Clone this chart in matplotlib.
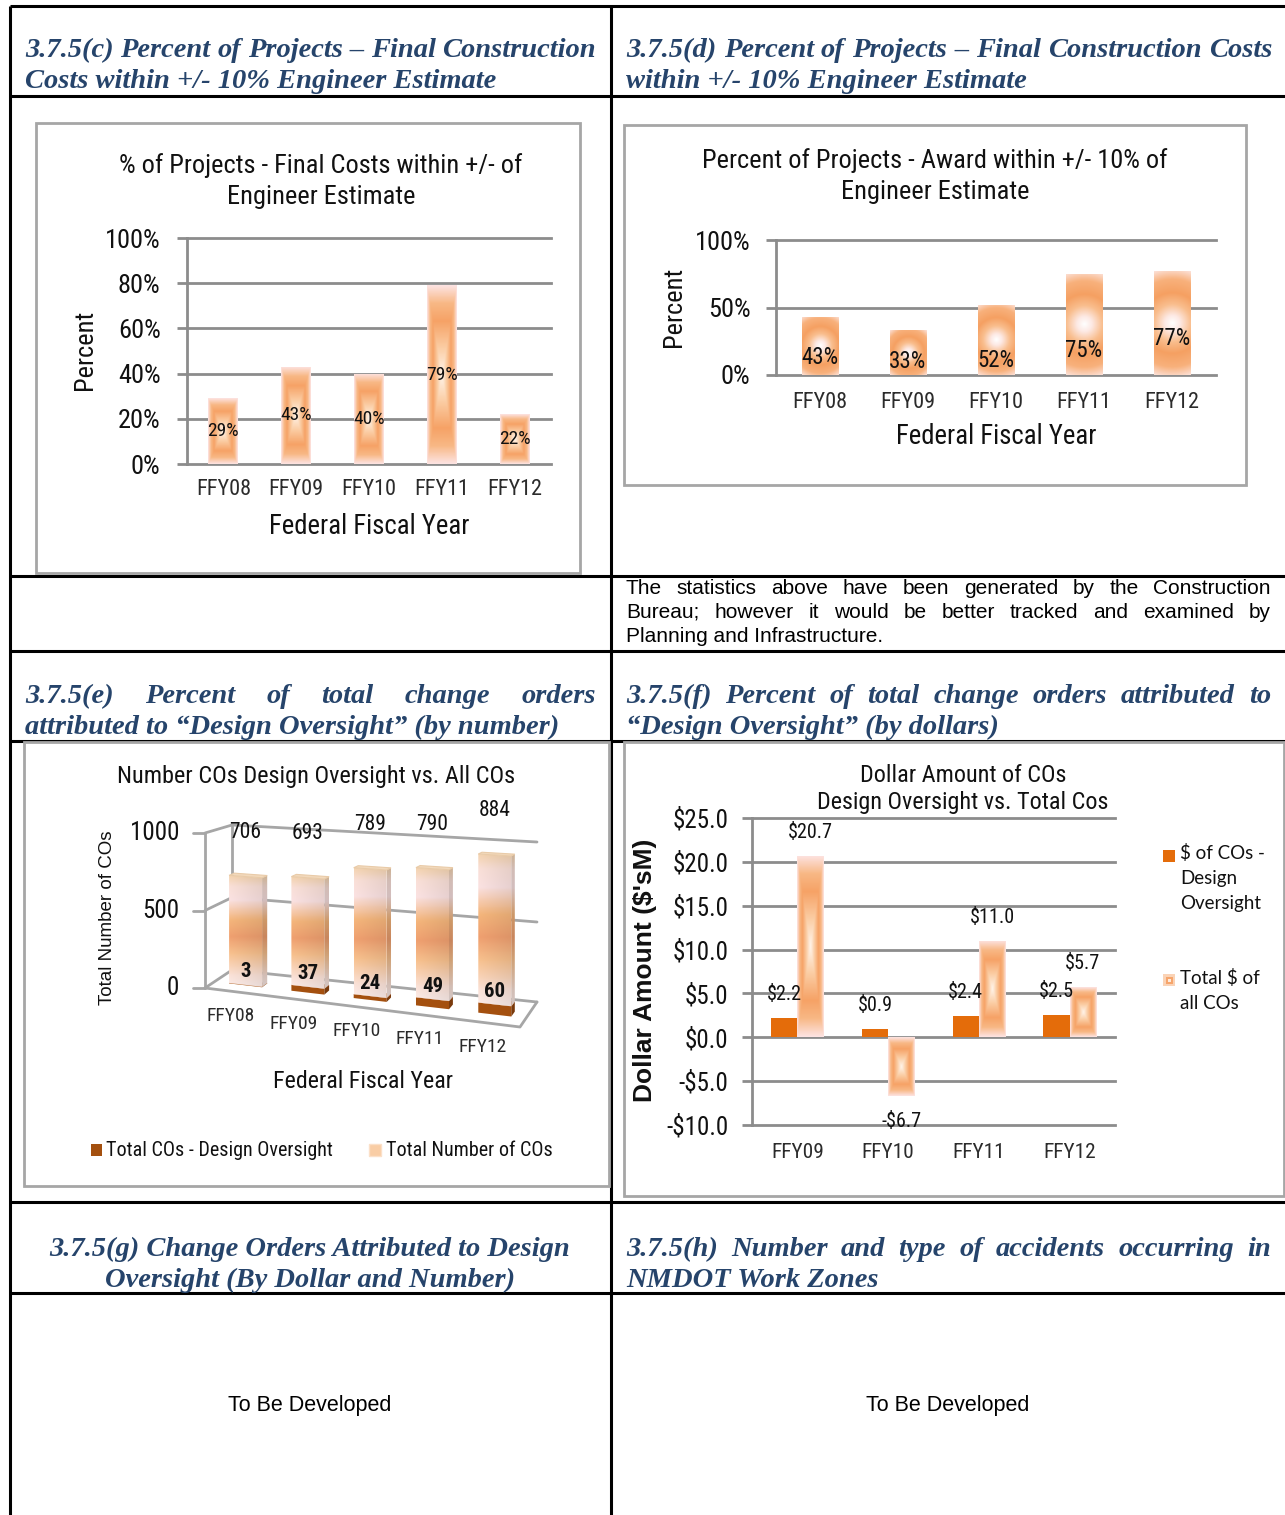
import numpy as np
import matplotlib
matplotlib.use("Agg")
import matplotlib.pyplot as plt
from matplotlib import font_manager
from matplotlib.colors import LinearSegmentedColormap
from matplotlib.patches import Rectangle, Polygon

W, H = 1285, 1515

# ---- values ----
years = ['FFY08', 'FFY09', 'FFY10', 'FFY11', 'FFY12']
final_cost_pct = [29, 43, 40, 79, 22]
award_pct = [43, 33, 52, 75, 77]
co_total = [706, 693, 789, 790, 884]
co_design = [3, 37, 24, 49, 60]
dollar_years = ['FFY09', 'FFY10', 'FFY11', 'FFY12']
dollar_design = [2.2, 0.9, 2.4, 2.5]
dollar_total = [20.7, -6.7, 11.0, 5.7]

# heights (in %) where the award labels sit inside their columns
award_label_at = [13, 10, 11, 18, 27]

installed = {f.name for f in font_manager.fontManager.ttflist}
NARROW = next((n for n in ['Liberation Sans Narrow', 'Roboto Condensed', 'Arial Narrow']
               if n in installed), 'Liberation Sans')
SQUEEZE = 1.0 if NARROW != 'Liberation Sans' else 0.84


def ns(size):
    return size * SQUEEZE


GRID = '#8C8C8C'
BOX = '#A6A6A6'
INK = '#111111'
ORANGE = '#E46C0A'
BROWN = '#A4500F'
BLUE = '#26446B'

glow = LinearSegmentedColormap.from_list('glow', [
    (0, '#FFF4EA'), (0.3, '#FBCDA4'), (0.6, '#F6A266'), (0.8, '#F8B885'), (1, '#FDE3E2')])
halo = LinearSegmentedColormap.from_list('halo', [
    (0, '#FFFFFF'), (0.14, '#FDE9E4'), (0.34, '#F9BE8E'), (0.55, '#F5A062'),
    (0.8, '#F8B17C'), (1, '#FCE1D8')])
column = LinearSegmentedColormap.from_list('column', [
    (0, '#FCEDEA'), (0.1, '#FBE2D8'), (0.3, '#F8C18E'), (0.45, '#F0A070'),
    (0.6, '#F5B67C'), (0.78, '#FBE2E2'), (0.9, '#FAE0D8'), (1, '#F4D3AE')])

fig = plt.figure(figsize=(W / 100, H / 100), dpi=100)
page = fig.add_axes([0, 0, 1, 1])
page.set_xlim(0, W)
page.set_ylim(H, 0)
page.axis('off')
renderer = fig.canvas.get_renderer()


def px_axes(x0, y0, x1, y1):
    ax = fig.add_axes([x0 / W, 1 - y1 / H, (x1 - x0) / W, (y1 - y0) / H])
    ax.set_facecolor('none')
    return ax


def write_line(text, x0, y, x1=None, **kw):
    # x1 given -> spread the words so the line runs from x0 to x1
    if x1 is None:
        page.text(x0, y, text, va='baseline', **kw)
        return
    words = text.split()
    size = kw.pop('size')
    while True:
        items = [page.text(0, y, w, va='baseline', size=size, **kw) for w in words]
        widths = [t.get_window_extent(renderer).width for t in items]
        gap = (x1 - x0 - sum(widths)) / (len(items) - 1)
        if gap >= 0.22 * size * 100 / 72:
            break
        for t in items:
            t.remove()
        size *= 0.98
    x = x0
    for t, w in zip(items, widths):
        t.set_x(x)
        x += w + gap


def gradient(ax, patch, cmap, kind, box, z=3, dim=1.0, tilt=0.0):
    x0, x1, yb, yt = box
    ny, nx = 240, 80
    U, V = np.meshgrid(np.linspace(-1, 1, nx), np.linspace(-1, 1, ny))
    if kind == 'rect':
        t = np.maximum(abs(U), abs(V))
    elif kind == 'radial':
        (px0, py0), (px1, py1) = ax.transData.transform([(x0, yb), (x1, yt)])
        wp, hp = abs(px1 - px0), abs(py1 - py0)
        t = np.clip(np.hypot(U * wp / 2, V * hp / 2) / np.hypot(wp / 2, hp / 2), 0, 1)
    else:
        t = (V + 1) / 2
    rgb = cmap(t)[..., :3] * dim
    if tilt:
        rgb = rgb * (1 - tilt * (U + 1) / 2)[..., None]
    im = ax.imshow(np.clip(rgb, 0, 1), extent=(x0, x1, yb, yt), origin='lower',
                   aspect='auto', interpolation='bilinear', zorder=z)
    im.set_clip_path(patch)


def gradient_bars(ax, x, heights, width, cmap, kind):
    bars = ax.bar(x, heights, width, color='none', zorder=3)
    for b in bars:
        x0 = b.get_x()
        gradient(ax, b, cmap, kind, (x0, x0 + b.get_width(), 0, b.get_height()))
    return bars


def frame(ax, yticks, ylabels, ysize, xsize, ypad, xpad):
    for s in ('top', 'right', 'bottom'):
        ax.spines[s].set_visible(False)
    ax.spines['left'].set_color(GRID)
    ax.spines['left'].set_linewidth(2)
    ax.spines['left'].set_zorder(2)
    for v in yticks:
        ax.axhline(v, color=GRID, lw=2, zorder=1, clip_on=False)
    ax.set_yticks(yticks, ylabels, fontfamily=NARROW, fontsize=ysize, color=INK)
    ax.tick_params(axis='y', length=7, width=2, color=GRID, pad=ypad)
    ax.tick_params(axis='x', length=0, pad=xpad, labelsize=xsize, labelcolor='#2b2b2b')
    for lab in ax.get_xticklabels():
        lab.set_fontfamily(NARROW)


def ntext(x, y, s, size, **kw):
    kw.setdefault('ha', 'center')
    kw.setdefault('va', 'center')
    page.text(x, y, s, family=NARROW, size=ns(size), color=INK, **kw)


# ---- table grid ----
rule = dict(color='black', lw=2.2, solid_capstyle='butt', zorder=0)
for y in [6, 96, 576, 651, 741, 1202, 1293]:
    page.plot([10, W], [y, y], **rule)
for x in [10, 611]:
    page.plot([x, x], [6, H], **rule)

head = dict(family='Liberation Serif', weight='bold', style='italic', size=20.5, color=BLUE)
write_line('3.7.5(c) Percent of Projects \u2013 Final Construction', 25, 57, 596, **head)
write_line('Costs within +/- 10% Engineer Estimate', 25, 88, **head)
write_line('3.7.5(d) Percent of Projects \u2013 Final Construction Costs', 626, 57, 1272, **head)
write_line('within +/- 10% Engineer Estimate', 626, 88, **head)
write_line('3.7.5(e) Percent of total change orders', 25, 703, 596, **head)
write_line('attributed to \u201cDesign Oversight\u201d (by number)', 25, 734, **head)
write_line('3.7.5(f) Percent of total change orders attributed to', 626, 703, 1271, **head)
write_line('\u201cDesign Oversight\u201d (by dollars)', 626, 734, **head)
write_line('3.7.5(g) Change Orders Attributed to Design', 310, 1256, ha='center', **head)
write_line('Oversight (By Dollar and Number)', 310, 1287, ha='center', **head)
write_line('3.7.5(h) Number and type of accidents occurring in', 626, 1256, 1271, **head)
write_line('NMDOT Work Zones', 626, 1287, **head)

body = dict(family='Liberation Sans', size=15, color='black')
write_line('The statistics above have been generated by the Construction', 626, 594, 1271, **body)
write_line('Bureau; however it would be better tracked and examined by', 626, 618, 1271, **body)
write_line('Planning and Infrastructure.', 626, 642, **body)
write_line('To Be Developed', 310, 1411, ha='center', family='Liberation Sans', size=15.5)
write_line('To Be Developed', 948, 1411, ha='center', family='Liberation Sans', size=15.5)

# ---- (c) final costs within +/- of estimate ----
page.add_patch(Rectangle((36, 123), 544, 450, fc='white', ec=BOX, lw=2, zorder=1))
ax = px_axes(187, 238, 551, 464)
x = np.arange(len(years))
ax.set_xlim(-0.5, 4.5)
ax.set_ylim(0, 100)
ax.set_autoscale_on(False)
ax.set_xticks(x, years)
frame(ax, [0, 20, 40, 60, 80, 100], [f'{v}%' for v in range(0, 101, 20)],
      ns(19), ns(16), 12, 11)
gradient_bars(ax, x, final_cost_pct, 0.41, glow, 'rect')
for xi, v in zip(x, final_cost_pct):
    ax.text(xi, v / 2, f'{v}%', ha='center', va='center', family=NARROW,
            size=ns(14), color=INK, zorder=5)
ax.set_xlim(-0.5, 4.5)
ax.set_ylim(0, 100)
ntext(321, 166, '% of Projects - Final Costs within +/- of', 19)
ntext(321, 197, 'Engineer Estimate', 19)
ntext(85, 350, 'Percent', 19, rotation=90)
ntext(369, 526, 'Federal Fiscal Year', 19.3)

# ---- (d) award within +/- 10% of estimate ----
page.add_patch(Rectangle((624, 125), 622, 360, fc='white', ec=BOX, lw=2, zorder=1))
ax = px_axes(776, 240, 1216, 375)
ax.set_xlim(-0.5, 4.5)
ax.set_ylim(0, 100)
ax.set_autoscale_on(False)
ax.set_xticks(x, years)
frame(ax, [0, 50, 100], ['0%', '50%', '100%'], ns(19), ns(16), 11.5, 12)
gradient_bars(ax, x, award_pct, 0.42, halo, 'radial')
for xi, v, at in zip(x, award_pct, award_label_at):
    ax.text(xi, at, f'{v}%', ha='center', va='center', family=NARROW,
            size=ns(16.5), color=INK, zorder=5)
ax.set_xlim(-0.5, 4.5)
ax.set_ylim(0, 100)
ntext(935, 161, 'Percent of Projects - Award within +/- 10% of', 19)
ntext(935, 192, 'Engineer Estimate', 19)
ntext(674, 307, 'Percent', 19, rotation=90)
ntext(996, 437, 'Federal Fiscal Year', 19.3)

# ---- (e) number of COs, pseudo-3D columns ----
page.add_patch(Rectangle((24, 742), 585, 444, fc='white', ec=BOX, lw=2, zorder=1))
ax = px_axes(24, 742, 609, 1186)
ax.set_xlim(24, 609)
ax.set_ylim(1186, 742)
ax.set_autoscale_on(False)
ax.axis('off')


def proj(c, v, d):
    # category c, count v, depth d (0 front .. 1 back wall) -> pixel position
    u = (c + 0.5) / 5
    xf, yf, sf = 205 + 315 * u, 988 + 39 * u, 0.155 + 0.022 * u
    xb, yb, sb = 232 + 305 * u, 970 + 32 * u, 0.145 + 0.015 * u
    return (xf + (xb - xf) * d,
            yf + (yb - yf) * d - v * (sf + (sb - sf) * d))


wall = dict(color=BOX, lw=2, zorder=1, solid_capstyle='round')
for v in (0, 500, 1000):
    pts = [proj(-0.5, v, 0), proj(-0.5, v, 1), proj(4.5, v, 1)]
    ax.plot(*zip(*pts), **wall)
    fx, fy = proj(-0.5, v, 0)
    ax.plot([fx - 12, fx], [fy, fy], **wall)
    ax.text(fx - 26, fy, f'{v}', ha='right', va='center', family=NARROW,
            size=ns(18), color=INK)
ax.plot(*zip(proj(-0.5, 0, 0), proj(-0.5, 1000, 0)), **wall)
ax.plot(*zip(proj(-0.5, 0, 1), proj(-0.5, 1000, 1)), **wall)
ax.plot(*zip(proj(-0.5, 0, 0), proj(4.5, 0, 0), proj(4.5, 0, 1)), **wall)

hw, d0, d1 = 0.265, 0.35, 0.55


def face(pts, **kw):
    poly = Polygon(pts, closed=True, **kw)
    ax.add_patch(poly)
    return poly


def box_of(pts):
    xs, ys = zip(*pts)
    return (min(xs), max(xs), max(ys), min(ys))


def draw_column(c, v0, v1, solid):
    front = [proj(c - hw, v0, d0), proj(c + hw, v0, d0), proj(c + hw, v1, d0), proj(c - hw, v1, d0)]
    side = [proj(c + hw, v0, d0), proj(c + hw, v0, d1), proj(c + hw, v1, d1), proj(c + hw, v1, d0)]
    top = [proj(c - hw, v1, d0), proj(c + hw, v1, d0), proj(c + hw, v1, d1), proj(c - hw, v1, d1)]
    if solid:
        face(front, fc=BROWN, ec='none', zorder=3)
        face(side, fc='#7A3A0C', ec='none', zorder=3)
        face(top, fc='#B8601C', ec='none', zorder=3)
        return
    p = face(front, fc='none', ec='none', zorder=3)
    gradient(ax, p, column, 'vertical', box_of(front), tilt=0.08)
    p = face(side, fc='none', ec='none', zorder=3)
    gradient(ax, p, column, 'vertical', box_of(side), dim=0.84)
    face(top, fc='#F2D9BC', ec='#E9CBA8', lw=0.8, zorder=3)


for i, (dv, tot) in enumerate(zip(co_design, co_total)):
    draw_column(i, 0, dv, True)
    draw_column(i, dv, dv + tot, False)
    tx, ty = proj(i, dv + tot, d0)
    ax.text(tx, ty - 44, f'{tot}', ha='center', va='center', family=NARROW,
            size=ns(15.5), color=INK, zorder=6)
    bx, by = proj(i, dv, d0)
    ax.text(bx, by - 13, f'{dv}', ha='center', va='center', family=NARROW,
            size=ns(15), weight='bold', color=INK, zorder=6)
    cx, cy = proj(i, 0, 0)
    ax.text(cx - 6, cy + 24, years[i], ha='center', va='center', family=NARROW,
            size=ns(14), color='#2b2b2b', zorder=6)
ax.set_xlim(24, 609)
ax.set_ylim(1186, 742)

ntext(316, 777, 'Number COs Design Oversight vs. All COs', 17.5)
page.text(108, 918, 'Total Number of COs', rotation=90, ha='center', va='center',
          family='Liberation Sans', size=13.5, color=INK)
ntext(363, 1081, 'Federal Fiscal Year', 17.3)
page.add_patch(Rectangle((91, 1144), 11, 12, fc=BROWN, ec='none', zorder=2))
ntext(106, 1150, 'Total COs - Design Oversight', 14.5, ha='left')
page.add_patch(Rectangle((369, 1144), 12, 12, fc='#F9CDA5', ec='#FBE0C8', lw=1, zorder=2))
ntext(386, 1150, 'Total Number of COs', 14.5, ha='left')

# ---- (f) dollar amount of COs ----
page.add_patch(Rectangle((624, 742), 660, 454, fc='white', ec=BOX, lw=2, zorder=1))
ax = px_axes(752, 818, 1115, 1125)
xf = np.arange(len(dollar_years))
ax.set_xlim(-0.5, 3.5)
ax.set_ylim(-10, 25)
ax.set_autoscale_on(False)
ax.set_xticks(xf, dollar_years)
ticks = list(range(-10, 26, 5))


def money(v):
    return f'${v:.1f}' if v >= 0 else f'-${-v:.1f}'


frame(ax, ticks, [money(v) for v in ticks], ns(18), ns(15.4), 10, 13)
bw = 0.29
ax.bar(xf - bw / 2, dollar_design, bw, color=ORANGE, zorder=3)
gradient_bars(ax, xf + bw / 2, dollar_total, bw, glow, 'rect')

for xi, a, b in zip(xf, dollar_design, dollar_total):
    ax.text(xi - bw / 2, a + 2.7, money(a), ha='center', va='center',
            family=NARROW, size=ns(14.5), color=INK, zorder=5)
    ax.text(xi + bw / 2, b + (2.7 if b >= 0 else -2.9), money(b), ha='center',
            va='center', family=NARROW, size=ns(14.5), color=INK, zorder=5)
ax.set_xlim(-0.5, 3.5)
ax.set_ylim(-10, 25)

ntext(963, 775, 'Dollar Amount of COs', 17.4)
ntext(963, 802, 'Design Oversight vs. Total Cos', 17.4)
page.text(645, 970, "Dollar Amount ($'sM)", rotation=90, ha='center', va='center',
          family='Liberation Sans', weight='bold', size=19, color=INK)
page.add_patch(Rectangle((1163, 850), 12, 12, fc=ORANGE, ec='none', zorder=2))
for k, s in enumerate(['$ of COs -', 'Design', 'Oversight']):
    page.text(1180, 853 + 25.5 * k, s, ha='left', va='center', family='Lato',
              size=13.5, color=INK)
page.add_patch(Rectangle((1163, 974), 12, 12, fc='#FAD3B6', ec='none', zorder=2))
page.add_patch(Rectangle((1165.5, 976.5), 7, 7, fc='#F6A56C', ec='none', zorder=3))
page.add_patch(Rectangle((1167.5, 978.5), 3, 3, fc='#FDEBDD', ec='none', zorder=4))
for k, s in enumerate(['Total $ of', 'all COs']):
    page.text(1180, 978 + 25.5 * k, s, ha='left', va='center', family='Lato',
              size=13.5, color=INK)

fig.savefig('out.png', dpi=100)
